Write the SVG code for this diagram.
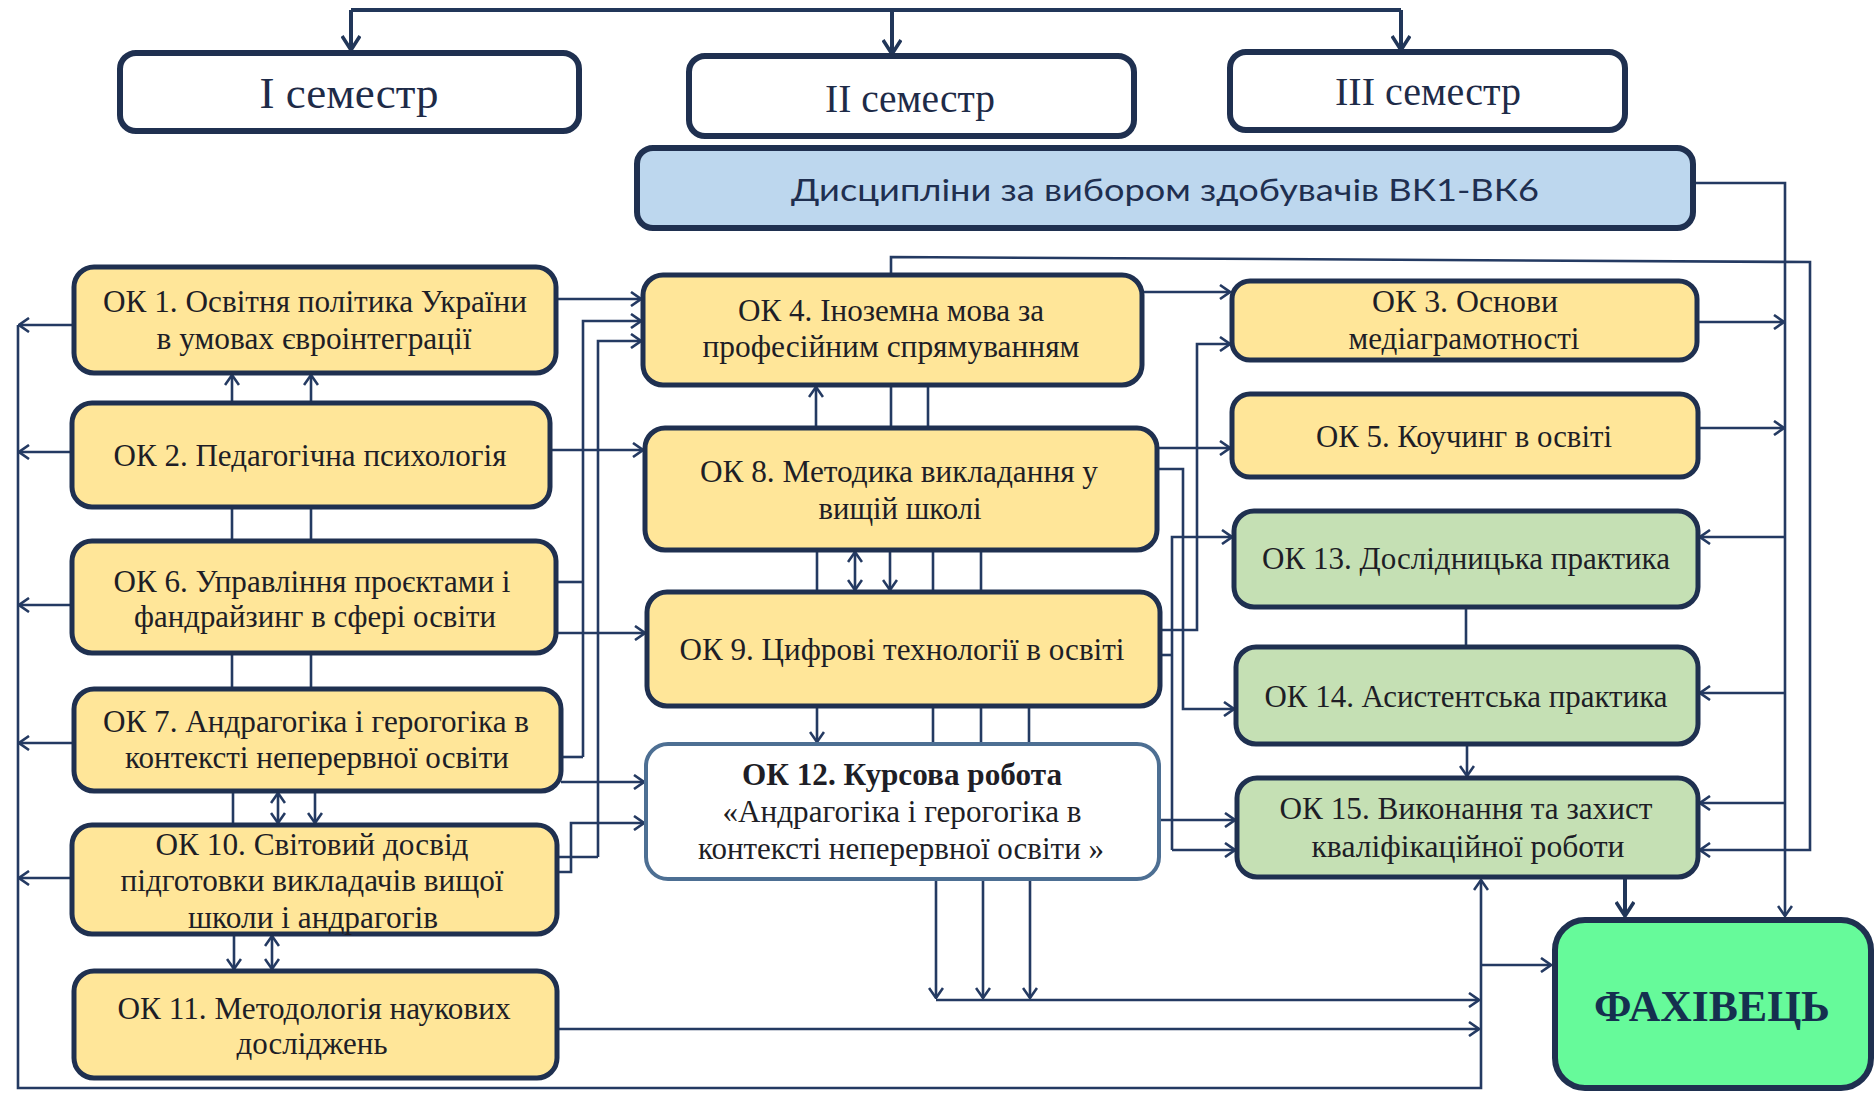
<svg xmlns="http://www.w3.org/2000/svg" width="1876" height="1093" viewBox="0 0 1876 1093">
<style>
.bx{stroke:#1f3050;stroke-width:5}
.y{fill:#ffe699}
.g{fill:#c5e0b4}
.w{fill:#ffffff}
.t{font-family:"Liberation Serif","Times New Roman",serif;font-size:31px;fill:#1e1e26;text-anchor:middle}
.s{font-family:"Liberation Serif","Times New Roman",serif;fill:#1e2b48;text-anchor:middle}
.c{fill:none;stroke:#243a62;stroke-width:2.6}
.ct{fill:none;stroke:#213659;stroke-width:4}
</style>
<defs>
<marker id="a" viewBox="0 0 12 16" refX="11" refY="8" markerWidth="12" markerHeight="16" markerUnits="userSpaceOnUse" orient="auto-start-reverse"><path d="M1,1 L11,8 L1,15" fill="none" stroke="#243a62" stroke-width="2.6"/></marker>
<marker id="b" viewBox="0 0 16 20" refX="15" refY="10" markerWidth="16" markerHeight="20" markerUnits="userSpaceOnUse" orient="auto-start-reverse"><path d="M1,1 L15,10 L1,19" fill="none" stroke="#213659" stroke-width="3.6"/></marker>
</defs>
<rect width="1876" height="1093" fill="#ffffff"/>
<g id="connectors">
<path class="ct" d="M351,10 H1401"/>
<path class="ct" d="M351,10 V50" marker-end="url(#b)"/>
<path class="ct" d="M892,10 V54" marker-end="url(#b)"/>
<path class="ct" d="M1401,10 V50" marker-end="url(#b)"/>
<path class="c" d="M1693,183 H1785 V916" marker-end="url(#a)"/>
<path class="c" d="M891,275 V257 L1810,262 V850 H1700" marker-end="url(#a)"/>
<path class="c" d="M1697,322 H1784" marker-end="url(#a)"/>
<path class="c" d="M1698,428 H1784" marker-end="url(#a)"/>
<path class="c" d="M1785,537 H1700" marker-end="url(#a)"/>
<path class="c" d="M1785,693 H1700" marker-end="url(#a)"/>
<path class="c" d="M1785,803 H1700" marker-end="url(#a)"/>
<path class="ct" d="M1625,877 V916" marker-end="url(#b)"/>
<path class="c" d="M18,325 V1088 H1481 V880" marker-end="url(#a)"/>
<path class="c" d="M74,325 H19" marker-end="url(#a)"/>
<path class="c" d="M72,452 H19" marker-end="url(#a)"/>
<path class="c" d="M72,605 H19" marker-end="url(#a)"/>
<path class="c" d="M74,743 H19" marker-end="url(#a)"/>
<path class="c" d="M72,878 H19" marker-end="url(#a)"/>
<path class="c" d="M1481,965 H1551" marker-end="url(#a)"/>
<path class="c" d="M558,1029 H1479" marker-end="url(#a)"/>
<path class="c" d="M936,1000 H1479" marker-end="url(#a)"/>
<path class="c" d="M936,879 V998" marker-end="url(#a)"/>
<path class="c" d="M983,879 V998" marker-end="url(#a)"/>
<path class="c" d="M1030,879 V998" marker-end="url(#a)"/>
<path class="c" d="M556,299 H641" marker-end="url(#a)"/>
<path class="c" d="M583,757 V321 H641" marker-end="url(#a)"/>
<path class="c" d="M556,582 H583"/>
<path class="c" d="M561,757 H583"/>
<path class="c" d="M598,857 V341 H641" marker-end="url(#a)"/>
<path class="c" d="M557,857 H598"/>
<path class="c" d="M550,450 H643" marker-end="url(#a)"/>
<path class="c" d="M556,633 H645" marker-end="url(#a)"/>
<path class="c" d="M561,782 H644" marker-end="url(#a)"/>
<path class="c" d="M557,872 H571 V823 H644" marker-end="url(#a)"/>
<path class="c" d="M1142,292 H1230" marker-end="url(#a)"/>
<path class="c" d="M1160,630 H1197 V344 H1230" marker-end="url(#a)"/>
<path class="c" d="M1157,448 H1230" marker-end="url(#a)"/>
<path class="c" d="M1157,469 H1183 V709 H1234" marker-end="url(#a)"/>
<path class="c" d="M1172,850 V537 H1232" marker-end="url(#a)"/>
<path class="c" d="M1172,850 H1235" marker-end="url(#a)"/>
<path class="c" d="M1160,655 H1172"/>
<path class="c" d="M1160,820 H1235" marker-end="url(#a)"/>
<path class="c" d="M232,403 V375" marker-end="url(#a)"/>
<path class="c" d="M311,403 V375" marker-end="url(#a)"/>
<path class="c" d="M232,507 V541"/>
<path class="c" d="M311,507 V541"/>
<path class="c" d="M232,653 V689"/>
<path class="c" d="M311,653 V689"/>
<path class="c" d="M233,791 V825"/>
<path class="c" d="M278,793 V823" marker-start="url(#a)" marker-end="url(#a)"/>
<path class="c" d="M315,791 V823" marker-end="url(#a)"/>
<path class="c" d="M234,934 V969" marker-end="url(#a)"/>
<path class="c" d="M272,936 V969" marker-start="url(#a)" marker-end="url(#a)"/>
<path class="c" d="M816,428 V387" marker-end="url(#a)"/>
<path class="c" d="M891,385 V428"/>
<path class="c" d="M928,385 V428"/>
<path class="c" d="M817,550 V592"/>
<path class="c" d="M855,552 V590" marker-start="url(#a)" marker-end="url(#a)"/>
<path class="c" d="M890,550 V590" marker-end="url(#a)"/>
<path class="c" d="M933,550 V592"/>
<path class="c" d="M981,550 V592"/>
<path class="c" d="M817,706 V742" marker-end="url(#a)"/>
<path class="c" d="M933,706 V744"/>
<path class="c" d="M981,706 V744"/>
<path class="c" d="M1029,706 V744"/>
<path class="c" d="M1466,607 V647"/>
<path class="c" d="M1467,744 V776" marker-end="url(#a)"/>
</g>
<g id="sem1"><rect class="w" x="120" y="53" width="459" height="78" rx="16" stroke="#1f3050" stroke-width="6"/><text class="s" x="349" y="108" font-size="45" textLength="179" lengthAdjust="spacingAndGlyphs">І семестр</text></g>
<g id="sem2"><rect class="w" x="689" y="56" width="445" height="80" rx="16" stroke="#1f3050" stroke-width="6"/><text class="s" x="910" y="112" font-size="40" textLength="170" lengthAdjust="spacingAndGlyphs">ІІ семестр</text></g>
<g id="sem3"><rect class="w" x="1230" y="52" width="395" height="78" rx="16" stroke="#1f3050" stroke-width="6"/><text class="s" x="1428" y="105" font-size="40" textLength="186" lengthAdjust="spacingAndGlyphs">ІІІ семестр</text></g>
<g id="vk"><rect x="637" y="148" width="1056" height="80" rx="16" fill="#bdd7ee" stroke="#1f3050" stroke-width="6"/><text x="1165" y="201" font-family="Lato,'Open Sans','Liberation Sans',sans-serif" font-size="30" fill="#1f2f50" text-anchor="middle" textLength="748" lengthAdjust="spacingAndGlyphs">Дисципліни за вибором здобувачів ВК1-ВК6</text></g>
<g id="ok1"><rect class="bx y" x="74" y="267" width="482" height="106" rx="20"/><text class="t" x="315" y="312" textLength="424" lengthAdjust="spacingAndGlyphs">ОК 1. Освітня політика України</text><text class="t" x="314" y="349" textLength="315" lengthAdjust="spacingAndGlyphs">в умовах євроінтеграції</text></g>
<g id="ok2"><rect class="bx y" x="72" y="403" width="478" height="104" rx="20"/><text class="t" x="310" y="466" textLength="393" lengthAdjust="spacingAndGlyphs">ОК 2. Педагогічна психологія</text></g>
<g id="ok6"><rect class="bx y" x="72" y="541" width="484" height="112" rx="20"/><text class="t" x="312" y="592" textLength="397" lengthAdjust="spacingAndGlyphs">ОК 6. Управління  проєктами і</text><text class="t" x="315" y="627" textLength="362" lengthAdjust="spacingAndGlyphs">фандрайзинг в сфері освіти</text></g>
<g id="ok7"><rect class="bx y" x="74" y="689" width="487" height="102" rx="20"/><text class="t" x="316" y="732" textLength="426" lengthAdjust="spacingAndGlyphs">ОК 7. Андрагогіка і герогогіка в</text><text class="t" x="317" y="768" textLength="384" lengthAdjust="spacingAndGlyphs">контексті неперервної освіти</text></g>
<g id="ok10"><rect class="bx y" x="72" y="825" width="485" height="109" rx="20"/><text class="t" x="312" y="855" textLength="313" lengthAdjust="spacingAndGlyphs">ОК 10. Світовий досвід</text><text class="t" x="312" y="891" textLength="383" lengthAdjust="spacingAndGlyphs">підготовки викладачів  вищої</text><text class="t" x="313" y="928" textLength="250" lengthAdjust="spacingAndGlyphs">школи і  андрагогів</text></g>
<g id="ok11"><rect class="bx y" x="74" y="971" width="483" height="107" rx="20"/><text class="t" x="314" y="1019" textLength="393" lengthAdjust="spacingAndGlyphs">ОК 11. Методологія наукових</text><text class="t" x="312" y="1054" textLength="151" lengthAdjust="spacingAndGlyphs">досліджень</text></g>
<g id="ok4"><rect class="bx y" x="643" y="275" width="499" height="110" rx="20"/><text class="t" x="891" y="321" textLength="306" lengthAdjust="spacingAndGlyphs">ОК 4. Іноземна мова за</text><text class="t" x="891" y="357" textLength="377" lengthAdjust="spacingAndGlyphs">професійним спрямуванням</text></g>
<g id="ok8"><rect class="bx y" x="645" y="428" width="512" height="122" rx="20"/><text class="t" x="899" y="482" textLength="398" lengthAdjust="spacingAndGlyphs">ОК 8. Методика викладання у</text><text class="t" x="900" y="519" textLength="163" lengthAdjust="spacingAndGlyphs">вищій школі</text></g>
<g id="ok9"><rect class="bx y" x="647" y="592" width="513" height="114" rx="20"/><text class="t" x="902" y="660" textLength="445" lengthAdjust="spacingAndGlyphs">ОК 9. Цифрові технології в освіті</text></g>
<g id="ok12"><rect class="w" x="646" y="744" width="513" height="135" rx="22" stroke="#4d6f93" stroke-width="4"/><text class="t" x="902" y="785" font-weight="bold" fill="#1b2640" textLength="320" lengthAdjust="spacingAndGlyphs">ОК 12. Курсова робота</text><text class="t" x="902" y="822" textLength="359" lengthAdjust="spacingAndGlyphs">«Андрагогіка і  герогогіка в</text><text class="t" x="901" y="859" textLength="406" lengthAdjust="spacingAndGlyphs">контексті неперервної освіти »</text></g>
<g id="ok3"><rect class="bx y" x="1232" y="281" width="465" height="79" rx="18"/><text class="t" x="1465" y="312" textLength="186" lengthAdjust="spacingAndGlyphs">ОК 3. Основи</text><text class="t" x="1464" y="349" textLength="231" lengthAdjust="spacingAndGlyphs">медіаграмотності</text></g>
<g id="ok5"><rect class="bx y" x="1232" y="394" width="466" height="83" rx="18"/><text class="t" x="1464" y="447" textLength="296" lengthAdjust="spacingAndGlyphs">ОК 5. Коучинг в освіті</text></g>
<g id="ok13"><rect class="bx g" x="1234" y="511" width="464" height="96" rx="20"/><text class="t" x="1466" y="569" textLength="408" lengthAdjust="spacingAndGlyphs">ОК 13. Дослідницька практика</text></g>
<g id="ok14"><rect class="bx g" x="1236" y="647" width="462" height="97" rx="20"/><text class="t" x="1466" y="707" textLength="403" lengthAdjust="spacingAndGlyphs">ОК 14. Асистентська практика</text></g>
<g id="ok15"><rect class="bx g" x="1237" y="778" width="461" height="99" rx="20"/><text class="t" x="1466" y="819" textLength="373" lengthAdjust="spacingAndGlyphs">ОК 15. Виконання та  захист</text><text class="t" x="1468" y="857" textLength="313" lengthAdjust="spacingAndGlyphs">кваліфікаційної  роботи</text></g>
<g id="fahivets"><rect x="1555" y="920" width="316" height="168" rx="30" fill="#66fa9a" stroke="#1f3050" stroke-width="6"/><text x="1712" y="1021" font-family="'Liberation Serif','Times New Roman',serif" font-size="45" font-weight="bold" fill="#15304f" text-anchor="middle" textLength="236" lengthAdjust="spacingAndGlyphs">ФАХІВЕЦЬ</text></g>
</svg>
